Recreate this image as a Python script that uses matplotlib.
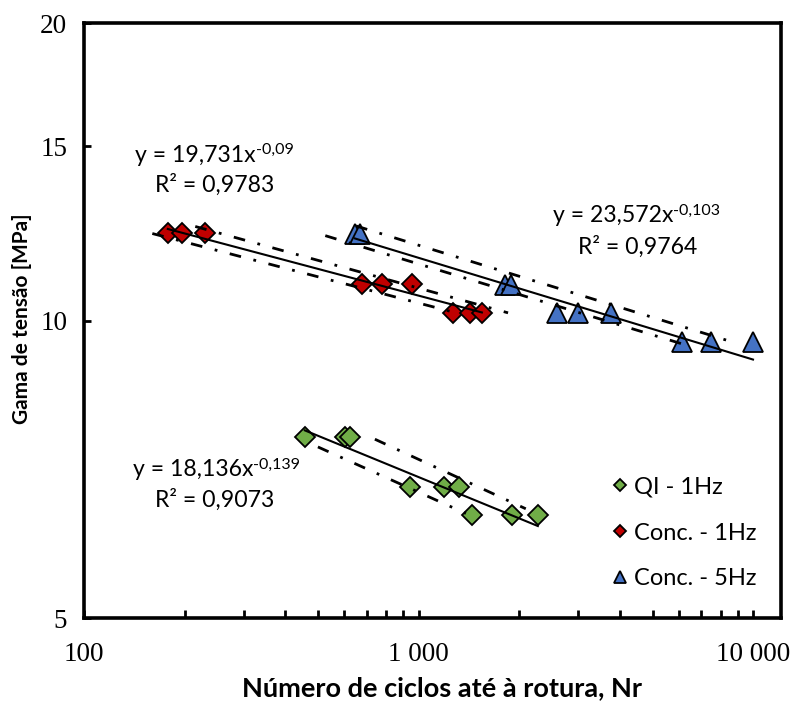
import numpy as np
import matplotlib
matplotlib.use("Agg")
import matplotlib.pyplot as plt
from matplotlib.ticker import FixedLocator, NullLocator, NullFormatter

# --- data ---
series_labels = ["QI - 1Hz", "Conc. - 1Hz", "Conc. - 5Hz"]

qi_n = [457, 603, 624, 942, 1191, 1319, 1442, 1900, 2271]
qi_s = [7.62, 7.62, 7.62, 6.79, 6.79, 6.79, 6.36, 6.36, 6.36]

c1_n = [178, 196, 230, 678, 777, 955, 1265, 1422, 1545]
c1_s = [12.27, 12.27, 12.27, 10.89, 10.89, 10.89, 10.18, 10.18, 10.18]

c5_n = [645, 668, 1812, 1888, 2589, 2990, 3756, 6120, 7470, 9980]
c5_s = [12.22, 12.22, 10.86, 10.86, 10.18, 10.18, 10.18, 9.52, 9.52, 9.52]

# power-law trendlines y = a * x^b (from the chart labels)
fit_a = [18.136, 19.731, 23.572]
fit_b = [-0.139, -0.09, -0.103]
fit_r2 = ["0,9073", "0,9783", "0,9764"]
fit_a_txt = ["18,136", "19,731", "23,572"]
fit_b_txt = ["-0,139", "-0,09", "-0,103"]

# dash-dot bound lines: (a, b, n_start, n_end), upper then lower
upper_bounds = [(21.27, -0.1561, 740, 2090), (20.57, -0.0935, 215, 1850), (24.51, -0.1044, 650, 8900)]
lower_bounds = [(19.18, -0.1522, 500, 1384), (19.18, -0.0884, 160, 1300), (23.19, -0.1027, 526, 6500)]

x_ticks = [100, 1000, 10000]
x_ticklabels = ["100", "1 000", "10 000"]
y_ticks = [5, 10, 15, 20]
y_ticklabels = ["5", "10", "15", "20"]

colors = ["#70AD47", "#C00000", "#4472C4"]
markers = ["D", "D", "^"]
msizes = [10.6, 10.6, 15]

W, H = 800, 705
fig = plt.figure(figsize=(W / 100, H / 100), dpi=100)
ax = fig.add_axes([84 / W, 1 - 618 / H, (781 - 84) / W, (618 - 23) / H])
ax.set_xscale("log")
ax.set_yscale("log")
ax.set_xlim(100, 12100)
ax.set_ylim(5, 20)

sans = "Lato"
all_n = [qi_n, c1_n, c5_n]
all_s = [qi_s, c1_s, c5_s]

handles = []
for i in range(3):
    h, = ax.plot(all_n[i], all_s[i], linestyle="none", marker=markers[i], ms=msizes[i],
                 markerfacecolor=colors[i], markeredgecolor="black", markeredgewidth=1.3,
                 zorder=3, label=series_labels[i])
    handles.append(h)

    # solid trendline over the series range
    xx = np.geomspace(min(all_n[i]), max(all_n[i]), 50)
    ax.plot(xx, fit_a[i] * xx ** fit_b[i], color="black", lw=1.5, zorder=4)

    # dash-dot bounds
    for a, b, n0, n1 in (upper_bounds[i], lower_bounds[i]):
        xx = np.geomspace(n0, n1, 50)
        ax.plot(xx, a * xx ** b, color="black", lw=2.0, zorder=4,
                dashes=(4.2, 4.6, 1.0, 4.6), dash_capstyle="butt")

for s in ax.spines.values():
    s.set_linewidth(2.6)
    s.set_color("black")

ax.xaxis.set_major_locator(FixedLocator(x_ticks))
ax.set_xticklabels(x_ticklabels)
minor = [m * 10 ** e for e in (2, 3) for m in range(2, 10)]
ax.xaxis.set_minor_locator(FixedLocator(minor))
ax.xaxis.set_minor_formatter(NullFormatter())
ax.yaxis.set_major_locator(FixedLocator(y_ticks))
ax.set_yticklabels(y_ticklabels)
ax.yaxis.set_minor_locator(NullLocator())

ax.tick_params(axis="x", which="both", direction="in", length=6, width=2.0, pad=17,
               labelsize=19.5, labelfontfamily="Liberation Serif")
ax.tick_params(axis="y", which="both", direction="in", length=5, width=2.0, pad=12,
               labelsize=19.5, labelfontfamily="Liberation Serif")
ax.tick_params(top=False, right=False)

def fx(px):
    return px / W

def fy(py):
    return 1 - py / H

# equation labels: main part, superscript exponent, R² line
eq_pos = [((133, 470), (215, 500)), ((135, 155), (215, 185)), ((553, 216), (638, 247))]
for i in range(3):
    (x1, y1), (x2, y2) = eq_pos[i]
    t = fig.text(fx(x1), fy(y1), "y = " + fit_a_txt[i] + "x", ha="left", va="center",
                 fontsize=16.6, family=sans)
    ax.annotate(fit_b_txt[i], xy=(1.0, 0.42), xycoords=t, ha="left", va="bottom",
                fontsize=11.5, family=sans, annotation_clip=False)
    fig.text(fx(x2), fy(y2), "R² = " + fit_r2[i], ha="center", va="center",
             fontsize=16.6, family=sans)

leg = fig.legend(handles=handles, loc="center left", bbox_to_anchor=(fx(608), fy(533)),
                 frameon=False, markerscale=0.57, handlelength=1.0, handletextpad=0.12,
                 labelspacing=1.05, borderpad=0, borderaxespad=0,
                 prop={"family": sans, "size": 17})

fig.text(fx(442), fy(688), "Número de ciclos até à rotura, Nr", ha="center", va="center",
         fontsize=19.5, fontweight="bold", family=sans)
fig.text(fx(22), fy(319), "Gama de tensão [MPa]", ha="center", va="center", rotation=90,
         fontsize=15, fontweight="bold", family=sans)

fig.savefig("out.png", dpi=100)
